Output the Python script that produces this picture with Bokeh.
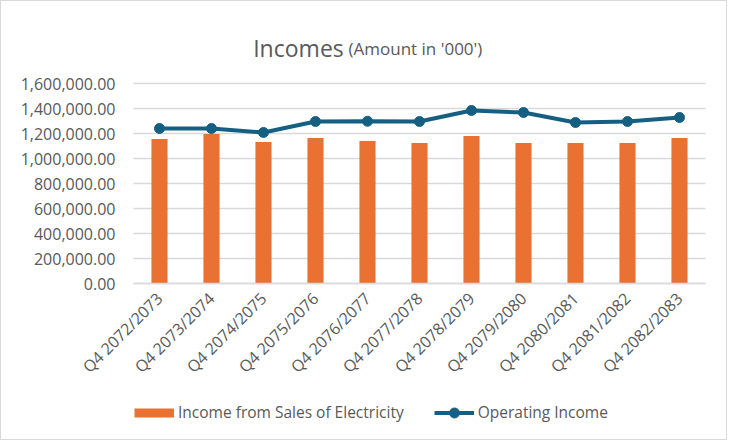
import math
from bokeh.plotting import figure
from bokeh.models import (Range1d, NumeralTickFormatter, FixedTicker,
                          Legend, LegendItem, Label)
from bokeh.embed import file_html
from bokeh.resources import INLINE

categories = ["Q4 2072/2073", "Q4 2073/2074", "Q4 2074/2075", "Q4 2075/2076",
              "Q4 2076/2077", "Q4 2077/2078", "Q4 2078/2079", "Q4 2079/2080",
              "Q4 2080/2081", "Q4 2081/2082", "Q4 2082/2083"]
sales_income = [1157000, 1197000, 1133000, 1165000, 1141000, 1125000,
                1181000, 1125000, 1125000, 1125000, 1165000]
operating_income = [1240000, 1240000, 1208000, 1296000, 1298000, 1296000,
                    1384000, 1368000, 1288000, 1296000, 1328000]
y_ticks = [0, 200000, 400000, 600000, 800000, 1000000, 1200000, 1400000, 1600000]

FONT = "Open Sans"
GREY = "#595959"
ORANGE = "#E97132"
TEAL = "#156082"

n = len(categories)
idx = list(range(n))  # category positions

# the frame spans the whole chart so that title, axes labels and legend live inside it;
# both axes are pinned to the plot-area edges
p = figure(x_range=Range1d(-0.5 - 132 / 52, n - 0.5 + 23 / 52),
           y_range=Range1d(-1264000, 2256000),
           width=727, height=440, output_backend="svg", toolbar_location=None,
           title=None, min_border_left=0, min_border_right=0,
           min_border_top=0, min_border_bottom=0,
           styles={"border": "1px solid #d9d9d9"})
p.outline_line_color = None
p.xgrid.visible = False
p.ygrid.visible = False

# horizontal gridlines over the plot area
p.segment(x0=-0.5, x1=n - 0.5, y0=y_ticks, y1=y_ticks,
          line_color="#d9d9d9", line_width=1.5, level="underlay")

bars = p.vbar(x=idx, top=sales_income, width=0.31, color=ORANGE, line_color=None)
line = p.line(x=idx, y=operating_income, line_color=TEAL, line_width=4)
pts = p.scatter(x=idx, y=operating_income, size=10, color=TEAL)
# legend swatch for the bars (drawn as a thick short line; no visible data)
swatch = p.line(x=[0], y=[float("nan")], line_color=ORANGE,
                line_width=9, line_cap="butt")

p.yaxis.fixed_location = -0.5
p.yaxis.ticker = FixedTicker(ticks=y_ticks)
p.yaxis.formatter = NumeralTickFormatter(format="0,0.00")
p.yaxis.axis_line_color = None
p.yaxis.major_tick_line_color = None
p.yaxis.minor_tick_line_color = None
p.yaxis.major_tick_out = 0
p.yaxis.major_label_standoff = 18

p.xaxis.fixed_location = 0
p.xaxis.bounds = (-0.5, n - 0.5)
p.xaxis.ticker = FixedTicker(ticks=idx)
p.xaxis.major_label_overrides = {i: c for i, c in zip(idx, categories)}
p.xaxis.axis_line_color = "#d9d9d9"
p.xaxis.axis_line_width = 1.5
p.xaxis.major_tick_line_color = None
p.xaxis.minor_tick_line_color = None
p.xaxis.major_tick_out = 0
p.xaxis.major_label_orientation = math.pi / 4
p.xaxis.major_label_standoff = 12

for ax in (p.xaxis[0], p.yaxis[0]):
    ax.major_label_text_font = FONT
    ax.major_label_text_font_size = "16px"
    ax.major_label_text_color = GREY

p.add_layout(Label(x=251.7, y=393.5, x_units="screen", y_units="screen",
                   text="Incomes", text_font=FONT, text_font_size="23px",
                   text_color=GREY, text_baseline="alphabetic", text_align="left"))
p.add_layout(Label(x=347, y=393.5, x_units="screen", y_units="screen",
                   text="(Amount in '000')", text_font=FONT, text_font_size="17px",
                   text_color=GREY, text_baseline="alphabetic", text_align="left"))

legend = Legend(items=[LegendItem(label="Income from Sales of Electricity", renderers=[swatch]),
                       LegendItem(label="Operating Income", renderers=[line, pts])],
                orientation="horizontal", location=(133, 16.5),
                glyph_width=40, glyph_height=25, label_height=25,
                label_standoff=4, spacing=30, padding=0, margin=0,
                border_line_color=None, background_fill_alpha=0,
                label_text_font=FONT, label_text_font_size="15.5px",
                label_text_color=GREY)
p.add_layout(legend, "center")

open("out.html", "w").write(file_html(p, INLINE))
